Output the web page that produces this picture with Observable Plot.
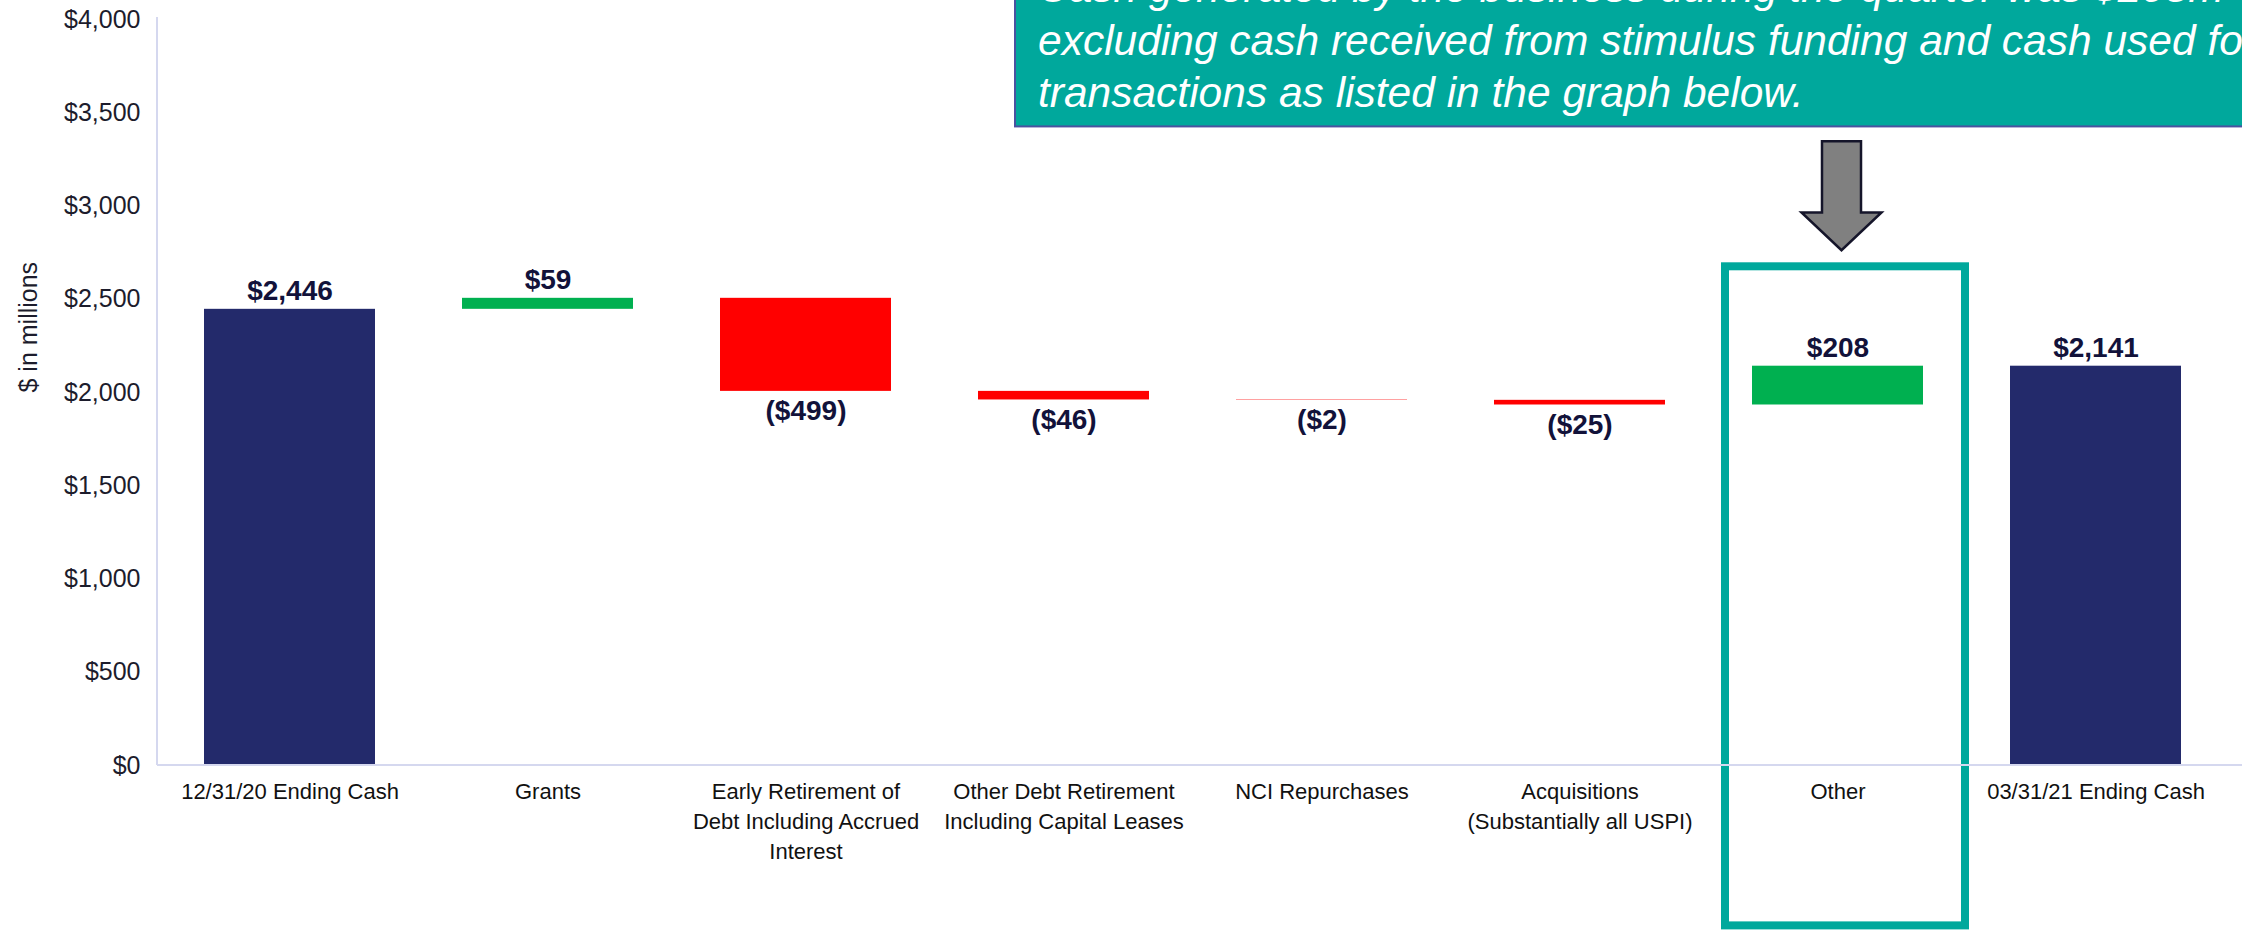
<!DOCTYPE html>
<html><head><meta charset="utf-8">
<script src="https://cdn.jsdelivr.net/npm/d3@7"></script>
<script src="https://cdn.jsdelivr.net/npm/@observablehq/plot@0.6"></script>
<style>
html,body{margin:0;padding:0;background:#fff;}
#chart{width:2242px;height:930px;overflow:hidden;position:relative;}
svg{overflow:visible;}
</style></head><body><div id="chart"></div>
<script>
// ---- data ----
const categories = [
  "12/31/20 Ending Cash",
  "Grants",
  "Early Retirement of\nDebt Including Accrued\nInterest",
  "Other Debt Retirement\nIncluding Capital Leases",
  "NCI Repurchases",
  "Acquisitions\n(Substantially all USPI)",
  "Other",
  "03/31/21 Ending Cash"
];
const changes = [2446, 59, -499, -46, -2, -25, 208, 2141];
const kinds = ["total", "up", "down", "down", "down", "down", "up", "total"];
const valueLabels = ["$2,446", "$59", "($499)", "($46)", "($2)", "($25)", "$208", "$2,141"];
const yTicks = [0, 500, 1000, 1500, 2000, 2500, 3000, 3500, 4000];
const yTitle = "$ in millions";
const annotationLines = [
  "Cash generated by the business during the quarter was $208m",
  "excluding cash received from stimulus funding and cash used for",
  "transactions as listed in the graph below."
];
const highlightCategory = "Other";

// ---- build waterfall table ----
let running = 0;
const rows = categories.map((c, i) => {
  let y1, y2;
  if (kinds[i] === "total") { y1 = 0; y2 = changes[i]; running = changes[i]; }
  else { y1 = running; y2 = running + changes[i]; running = y2; }
  return {cat: c, y1, y2, lo: Math.min(y1, y2), hi: Math.max(y1, y2), kind: kinds[i], label: valueLabels[i]};
});

const colors = {total: "#232a6b", up: "#00b050", down: "#ff0000"};
const teal = "#00a89c";
const FONT = "'Liberation Sans', Arial, Helvetica, sans-serif";

// annotation decorations, positioned through the scales
function decorations(index, scales, values, dimensions) {
  const NS = "http://www.w3.org/2000/svg";
  const g = document.createElementNS(NS, "g");
  const x = scales.x, y = scales.y;
  let bw = x.bandwidth;
  if (typeof bw === "function") bw = bw.call(x);
  if (typeof bw !== "number" || !isFinite(bw)) {
    const sx = scales.scales && scales.scales.x;
    bw = sx && typeof sx.bandwidth === "number" ? sx.bandwidth : 172;
  }
  const {width} = dimensions;
  const marginLeft = dimensions.marginLeft;
  // axis lines
  const axisColor = "#d5d8ef";
  const vl = document.createElementNS(NS, "line");
  vl.setAttribute("x1", marginLeft); vl.setAttribute("x2", marginLeft);
  vl.setAttribute("y1", y(4000) - 2); vl.setAttribute("y2", y(0));
  vl.setAttribute("stroke", axisColor); vl.setAttribute("stroke-width", 2);
  g.appendChild(vl);
  const hl = document.createElementNS(NS, "line");
  hl.setAttribute("x1", marginLeft); hl.setAttribute("x2", width);
  hl.setAttribute("y1", y(0)); hl.setAttribute("y2", y(0));
  hl.setAttribute("stroke", axisColor); hl.setAttribute("stroke-width", 2);
  g.appendChild(hl);

  // annotation box
  const boxLeft = x(categories[3]) + 37;
  const boxBottom = y(3424);
  const box = document.createElementNS(NS, "rect");
  box.setAttribute("x", boxLeft); box.setAttribute("y", -20);
  box.setAttribute("width", width - boxLeft + 30); box.setAttribute("height", boxBottom + 20);
  box.setAttribute("fill", teal); box.setAttribute("stroke", "#4a52a0"); box.setAttribute("stroke-width", 2);
  g.appendChild(box);
  annotationLines.forEach((t, i) => {
    const tx = document.createElementNS(NS, "text");
    tx.setAttribute("x", boxLeft + 23);
    tx.setAttribute("y", boxBottom - 19 - (annotationLines.length - 1 - i) * 52.5);
    tx.setAttribute("fill", "#ffffff");
    tx.setAttribute("text-anchor", "start");
    tx.setAttribute("font-style", "italic");
    tx.setAttribute("font-size", 42.5);
    tx.setAttribute("font-family", FONT);
    tx.textContent = t;
    g.appendChild(tx);
  });

  // block arrow pointing down to highlighted category
  const cx = x(highlightCategory) + bw / 2 + 4;
  const top = y(3344), neck = y(2963), tip = y(2760);
  const sw = 19.5, hw = 40;
  const pts = [[cx - sw, top], [cx + sw, top], [cx + sw, neck], [cx + hw, neck], [cx, tip], [cx - hw, neck], [cx - sw, neck]];
  const poly = document.createElementNS(NS, "polygon");
  poly.setAttribute("points", pts.map(p => p.join(",")).join(" "));
  poly.setAttribute("fill", "#808080"); poly.setAttribute("stroke", "#15152a"); poly.setAttribute("stroke-width", 2.5);
  g.appendChild(poly);
  return g;
}

const chart = Plot.plot({
  width: 2242,
  height: 930,
  marginTop: 19,
  marginBottom: 165,
  marginLeft: 157,
  marginRight: 0,
  style: {fontFamily: FONT, background: "#fff", overflow: "visible"},
  x: {domain: categories, paddingInner: 0.336, paddingOuter: 0.195, align: 0.436, axis: null},
  y: {domain: [0, 4000], axis: null},
  marks: [
    Plot.axisY({ticks: yTicks, tickSize: 0, tickPadding: 17, fontSize: 25, fill: "#1c1c2c",
      tickFormat: d => "$" + d3.format(",")(d), label: null}),
    Plot.text([yTitle], {frameAnchor: "left", rotate: -90, dx: -129, fontSize: 25, fill: "#1c1c2c"}),
    Plot.barY(rows, {x: "cat", y1: "y1", y2: "y2", fill: d => colors[d.kind]}),
    // highlight frame around "Other"
    Plot.barY([highlightCategory], {x: d => d, y1: -860, y2: 2674, fill: "none", stroke: teal,
      strokeWidth: 8, insetLeft: -27, insetRight: -42}),
    decorations,
    // value labels above rising/total bars
    Plot.text(rows.filter(d => d.kind !== "down"), {x: "cat", y: "hi", text: "label", lineAnchor: "bottom",
      dy: -9, fontSize: 28, fontWeight: "bold", fill: "#12123a"}),
    // value labels below falling bars
    Plot.text(rows.filter(d => d.kind === "down"), {x: "cat", y: "lo", text: "label", lineAnchor: "top",
      dy: 9, fontSize: 28, fontWeight: "bold", fill: "#12123a"}),
    // category labels
    Plot.text(categories, {x: d => d, frameAnchor: "bottom", lineAnchor: "top", dy: 12, lineHeight: 1.36,
      fontSize: 22, fill: "#111"})
  ]
});
document.getElementById("chart").appendChild(chart);
</script>
</body></html>
